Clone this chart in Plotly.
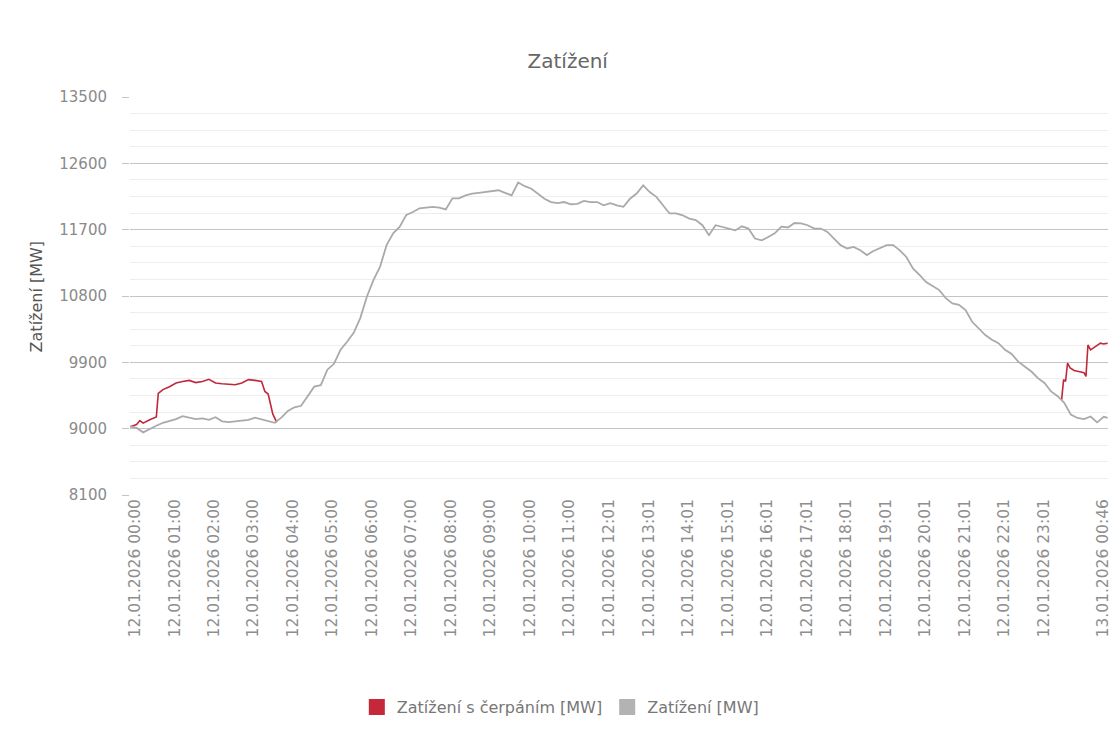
import pandas as pd
import plotly.graph_objects as go

# Zatížení [MW], 10 min steps from 12.01.2026 00:00, last point 13.01.2026 00:46
load_values = [
    9030, 9010, 8950, 9000, 9040, 9080,
    9100, 9130, 9170, 9150, 9130, 9140,
    9120, 9155, 9100, 9090, 9100, 9110,
    9120, 9150, 9130, 9110, 9080, 9150,
    9240, 9290, 9310, 9440, 9570, 9590,
    9800, 9880, 10070, 10180, 10300, 10500,
    10790, 11015, 11195, 11490, 11650, 11740,
    11900, 11940, 11990, 12000, 12010, 12000,
    11975, 12125, 12125, 12165, 12190, 12200,
    12210, 12225, 12235, 12200, 12165, 12340,
    12290, 12255, 12190, 12120, 12075, 12060,
    12075, 12045, 12050, 12090, 12075, 12075,
    12030, 12060, 12030, 12010, 12120, 12190,
    12300, 12210, 12145, 12030, 11920, 11920,
    11895, 11850, 11830, 11760, 11625, 11760,
    11740, 11715, 11690, 11745, 11715, 11580,
    11555, 11600, 11650, 11740, 11730, 11790,
    11785, 11760, 11715, 11715, 11670, 11580,
    11490, 11445, 11465, 11420, 11355, 11410,
    11445, 11490, 11490, 11420, 11330, 11175,
    11085, 10990, 10935, 10880, 10770, 10700,
    10680, 10610, 10450, 10360, 10270, 10205,
    10160, 10070, 10015, 9910, 9845, 9775,
    9685, 9620, 9505, 9440, 9350, 9190,
    9145, 9130, 9165, 9085, 9160,
    9145,
]
load_times = list(pd.date_range("2026-01-12 00:00", periods=149, freq="10min")) + [
    pd.Timestamp("2026-01-13 00:46")
]

# Zatížení s čerpáním [MW] - only where it differs from plain load (night pumping)
pump_times_night = [
    "2026-01-12 00:00", "2026-01-12 00:10", "2026-01-12 00:15", "2026-01-12 00:20",
    "2026-01-12 00:30", "2026-01-12 00:40", "2026-01-12 00:43", "2026-01-12 00:50",
    "2026-01-12 01:00", "2026-01-12 01:10", "2026-01-12 01:20", "2026-01-12 01:30",
    "2026-01-12 01:40", "2026-01-12 01:50", "2026-01-12 02:00", "2026-01-12 02:10",
    "2026-01-12 02:20", "2026-01-12 02:30", "2026-01-12 02:40", "2026-01-12 02:50",
    "2026-01-12 03:00", "2026-01-12 03:10", "2026-01-12 03:20", "2026-01-12 03:25",
    "2026-01-12 03:30", "2026-01-12 03:37", "2026-01-12 03:43",
]
pump_values_night = [
    9025, 9055, 9110, 9075, 9120, 9160, 9480, 9530,
    9570, 9620, 9640, 9655, 9625, 9640, 9670, 9620,
    9610, 9605, 9595, 9620, 9665, 9655, 9640, 9505,
    9470, 9200, 9085,
]
pump_times_late = [
    "2026-01-12 23:36", "2026-01-12 23:39", "2026-01-12 23:42", "2026-01-12 23:45",
    "2026-01-12 23:49", "2026-01-12 23:55", "2026-01-13 00:00", "2026-01-13 00:05",
    "2026-01-13 00:10", "2026-01-13 00:13", "2026-01-13 00:16", "2026-01-13 00:20",
    "2026-01-13 00:25", "2026-01-13 00:30", "2026-01-13 00:35", "2026-01-13 00:40",
    "2026-01-13 00:46",
]
pump_values_late = [
    9390, 9665, 9640, 9890, 9825, 9790, 9780, 9775,
    9760, 9710, 10135, 10070, 10100, 10120, 10160, 10150,
    10160,
]

tick_times = ["2026-01-12 %02d:00" % h for h in range(12)] + \
             ["2026-01-12 %02d:01" % h for h in range(12, 24)] + ["2026-01-13 00:46"]
tick_labels = [pd.Timestamp(t).strftime("%d.%m.%Y %H:%M") for t in tick_times]
# the last label is pulled inside the chart edge like in the original
tick_pos = tick_times[:-1] + ["2026-01-13 00:31"]

y_ticks = [8100, 9000, 9900, 10800, 11700, 12600, 13500]

RED = "#c0283c"
GRAY = "#aca8ac"
FONT = "DejaVu Sans"

fig = go.Figure()
fig.add_trace(go.Scatter(
    x=pump_times_night + [None] + pump_times_late,
    y=pump_values_night + [None] + pump_values_late,
    mode="lines", line=dict(color=RED, width=1.6), showlegend=False,
))
fig.add_trace(go.Scatter(
    x=load_times, y=load_values,
    mode="lines", line=dict(color=GRAY, width=1.8), showlegend=False,
))
# legend entries with square symbols
for name, col in [("Zatížení s čerpáním [MW]", "#c4283a"), ("Zatížení [MW]", "#b3b3b3")]:
    fig.add_trace(go.Scatter(
        x=[None], y=[None], mode="markers", name=name,
        marker=dict(symbol="square", size=17, color=col),
    ))

# page has an 8px body margin, so the figure is 16px smaller than the window
fig.update_layout(
    width=1104, height=740,
    margin=dict(l=122, r=0, t=89, b=253),
    paper_bgcolor="white", plot_bgcolor="white",
    font=dict(family=FONT, color="#777"),
    title=dict(text="Zatížení", x=0.507, xanchor="center", y=0.928, yanchor="middle",
               font=dict(size=20, color="#666")),
    legend=dict(orientation="h", x=0.44, xanchor="center", y=-0.533, yanchor="middle",
                font=dict(size=16, color="#777"), itemwidth=30, tracegroupgap=0),
    showlegend=True,
)
fig.update_xaxes(
    range=["2026-01-12 00:00", "2026-01-13 00:46:30"],
    tickmode="array", tickvals=tick_pos, ticktext=tick_labels,
    tickangle=-90, tickfont=dict(size=15.5, color="#8e8e8e"),
    ticklabelshift=5, ticklabeloverflow="allow",
    showgrid=False, zeroline=False, showline=False, ticks="",
)
fig.update_yaxes(
    range=[8100, 13500], tickmode="array", tickvals=y_ticks,
    ticktext=[str(v) for v in y_ticks], ticklabelstandoff=12,
    tickfont=dict(size=15, color="#8a8a8a"),
    showgrid=True, gridcolor="#c4c4c4", gridwidth=1,
    ticks="outside", ticklen=7, tickcolor="#c4c4c4",
    zeroline=False, showline=False,
    minor=dict(dtick=225, tick0=8100, showgrid=True, gridcolor="#eeeeee", ticks=""),
)
fig.add_annotation(
    text="Zatížení [MW]", textangle=-90, xref="paper", yref="paper",
    x=-0.0957, y=0.5, xanchor="center", yanchor="middle", showarrow=False,
    font=dict(size=16, color="#555"),
)

fig.write_html("out.html")
